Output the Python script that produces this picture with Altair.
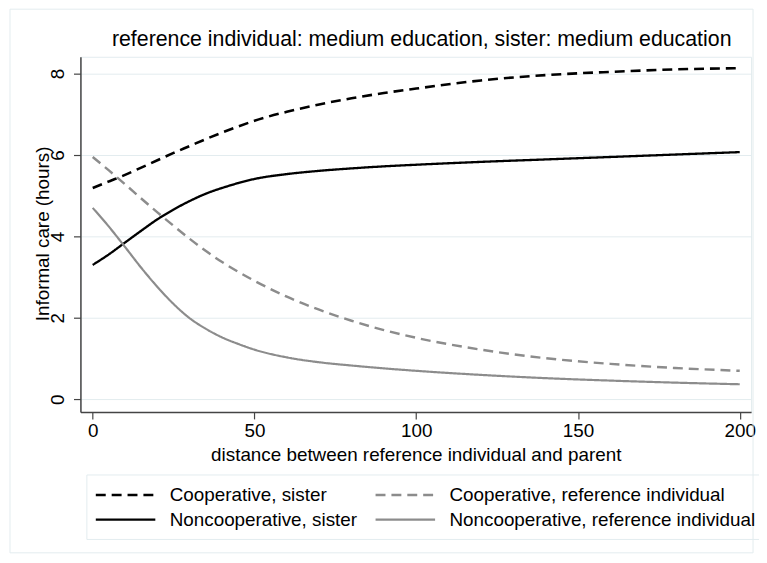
import altair as alt
import pandas as pd

# ---- data ----
distance = [0, 5, 10, 15, 20, 25, 30, 35, 40, 45, 50, 60, 70, 80, 90, 100, 120, 140, 160, 180, 200]
coop_sister = [5.19, 5.35, 5.51, 5.69, 5.87, 6.05, 6.22, 6.39, 6.55, 6.70, 6.84, 7.06, 7.24, 7.39, 7.52, 7.63, 7.83, 7.96, 8.04, 8.10, 8.13]
coop_ref = [5.95, 5.62, 5.28, 4.93, 4.59, 4.26, 3.94, 3.64, 3.37, 3.13, 2.91, 2.52, 2.20, 1.93, 1.70, 1.51, 1.22, 1.01, 0.87, 0.77, 0.70]
noncoop_sister = [3.30, 3.56, 3.85, 4.14, 4.42, 4.66, 4.87, 5.05, 5.19, 5.31, 5.41, 5.53, 5.61, 5.67, 5.72, 5.76, 5.83, 5.89, 5.95, 6.01, 6.07]
noncoop_ref = [4.70, 4.24, 3.74, 3.23, 2.76, 2.34, 1.99, 1.73, 1.52, 1.36, 1.22, 1.03, 0.91, 0.83, 0.76, 0.70, 0.60, 0.52, 0.46, 0.41, 0.37]

series_names = [
    "Cooperative, sister",
    "Cooperative, reference individual",
    "Noncooperative, sister",
    "Noncooperative, reference individual",
]
x_ticks = [0, 50, 100, 150, 200]
y_ticks = [0, 2, 4, 6, 8]

rows = []
for name, ys in zip(series_names, [coop_sister, coop_ref, noncoop_sister, noncoop_ref]):
    for x, y in zip(distance, ys):
        rows.append({"distance": x, "care": y, "series": name})
df = pd.DataFrame(rows)

FONT = "Liberation Sans"
GRID = "#e3ecef"
AXIS = "#444444"

legend = alt.Legend(
    orient="none", legendX=6, legendY=421, columns=2, direction="horizontal",
    symbolType="M-3,0H3", symbolSize=400, symbolStrokeWidth=2.5, symbolOffset=19,
    labelOffset=33, labelFontSize=19, labelFont=FONT, labelColor="#000000", labelLimit=500,
    columnPadding=12, rowPadding=3, padding=9, strokeColor=GRID,
)

lines = alt.Chart(df).mark_line(interpolate="monotone").encode(
    x=alt.X("distance:Q",
            scale=alt.Scale(domain=[-3.8, 203.5], nice=False, zero=False),
            axis=alt.Axis(values=x_ticks, title="distance between reference individual and parent",
                          grid=False, labelFlush=False, labelPadding=3, titlePadding=5)),
    y=alt.Y("care:Q",
            scale=alt.Scale(domain=[-0.31, 8.41], nice=False, zero=False),
            axis=alt.Axis(values=y_ticks, title="Informal care (hours)", grid=True, labelFlush=False,
                          labelAngle=270, labelAlign="center", labelBaseline="alphabetic", labelPadding=10,
                          titleAngle=270, titleAlign="center", titleBaseline="alphabetic",
                          titleX=-32, titleY=178)),
    color=alt.Color("series:N", title=None,
                    scale=alt.Scale(domain=series_names, range=["#000000", "#8c8c8c", "#000000", "#8c8c8c"]),
                    legend=legend),
    strokeDash=alt.StrokeDash("series:N", title=None,
                              scale=alt.Scale(domain=series_names, range=[[10, 6], [10, 6], [1, 0], [1, 0]]),
                              legend=legend),
    strokeWidth=alt.StrokeWidth("series:N",
                                scale=alt.Scale(domain=series_names, range=[2.6, 2.2, 2.6, 2.2]),
                                legend=None),
)

frame = alt.Chart(alt.Data(values=[{"f": 1}])).mark_rect(
    fill="transparent", stroke=GRID, strokeWidth=1
).encode(x=alt.value(-71), x2=alt.value(678), y=alt.value(-48), y2=alt.value(500))

chart = alt.layer(frame, lines).properties(
    width=676, height=358,
    background="#ffffff",
    autosize=alt.AutoSizeParams(type="none"),
    padding={"left": 73, "top": 47, "right": 8, "bottom": 142},
    title=alt.TitleParams("reference individual: medium education, sister: medium education",
                          font=FONT, fontSize=21.5, fontWeight="normal", color="#000000",
                          anchor="middle", offset=0, dy=42, dx=6),
).configure_view(stroke=GRID, strokeWidth=1).configure_axis(
    domainColor=AXIS, domainWidth=1.5, tickColor=AXIS, tickWidth=1.2, tickSize=7,
    labelFont=FONT, labelFontSize=19, labelColor="#000000",
    titleFont=FONT, titleFontSize=19, titleFontWeight="normal", titleColor="#000000",
    gridColor=GRID, gridWidth=1,
)

chart.save("out.html", embed_options={"renderer": "svg", "actions": False})
